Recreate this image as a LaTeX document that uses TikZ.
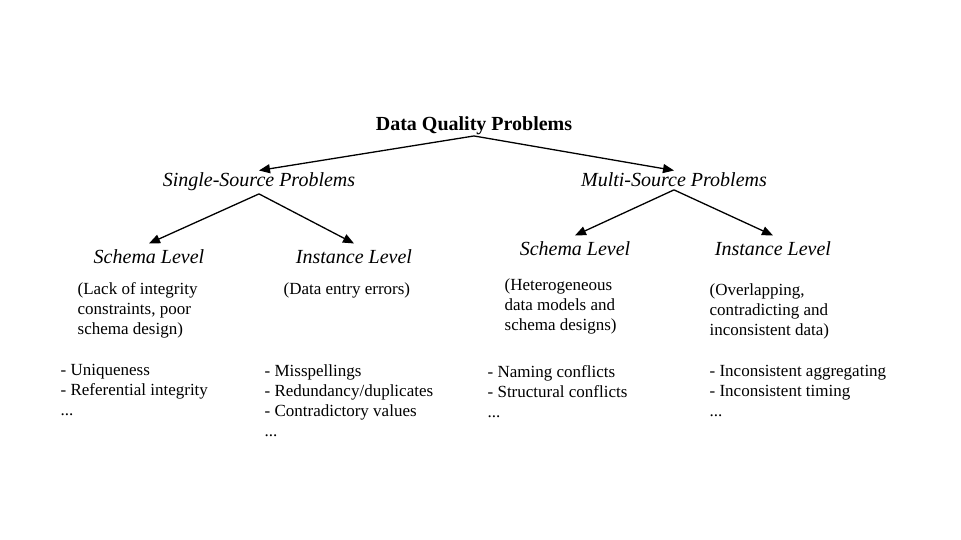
\documentclass[tikz,border=0pt]{standalone}
\usepackage{fontspec}
\setmainfont{Liberation Serif}
\usetikzlibrary{arrows.meta}

\begin{document}
\begin{tikzpicture}[x=1pt, y=-1pt, line width=1.3pt,
    every node/.style={inner sep=0pt, black},
    top/.style={font=\fontsize{20}{24}\selectfont\bfseries, anchor=base, inner ysep=0pt},
    head/.style={font=\fontsize{20}{24}\selectfont\itshape, anchor=base, inner ysep=2pt},
    level/.style={font=\fontsize{20}{24}\selectfont\itshape, anchor=base, inner ysep=5pt},
    body/.style={font=\fontsize{17}{20}\selectfont, align=left, anchor=north west},
    >={Triangle[length=11pt,width=9pt]}]
    \useasboundingbox (0,0) rectangle (961,540);

    \node[top] (dqp) at (474,131) {Data Quality Problems};
    \node[head] (ssp) at (259,187) {Single-Source Problems};
    \node[head] (msp) at (674,187) {Multi-Source Problems};
    \node[level] (ssl) at (149,263) {Schema Level};
    \node[level] (sil) at (354,263) {Instance Level};
    \node[level] (msl) at (575,255) {Schema Level};
    \node[level] (mil) at (773,255) {Instance Level};

    \node[body] (ssldesc) at (77,282) {(Lack of integrity\\constraints, poor\\schema design)};
    \node[body] (sildesc) at (283,282) {(Data entry errors)};
    \node[body] (msldesc) at (504,278) {(Heterogeneous\\data models and\\schema designs)};
    \node[body] (mildesc) at (709,283) {(Overlapping,\\contradicting and\\inconsistent data)};

    \node[body] (sslex) at (60,364) {- Uniqueness\\- Referential integrity\\...};
    \node[body] (silex) at (264,364) {- Misspellings\\- Redundancy/duplicates\\- Contradictory values\\...};
    \node[body] (mslex) at (487,365) {- Naming conflicts\\- Structural conflicts\\...};
    \node[body] (milex) at (709,365) {- Inconsistent aggregating\\- Inconsistent timing\\...};

    \draw[->] (dqp.south) -- (ssp.north);
    \draw[->] (dqp.south) -- (msp.north);
    \draw[->] (ssp.south) -- (ssl.north);
    \draw[->] (ssp.south) -- (sil.north);
    \draw[->] (msp.south) -- (msl.north);
    \draw[->] (msp.south) -- (mil.north);

  \end{tikzpicture}
\end{document}
